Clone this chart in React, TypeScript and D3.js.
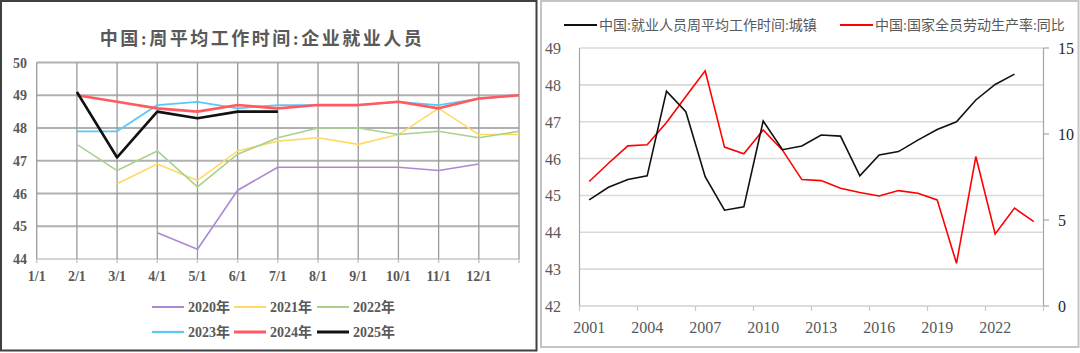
import React, { useEffect, useRef } from "react";
import { select, scaleLinear, scaleBand, line } from "d3";

// left chart: weekly hours, enterprise employees, by month
const monthLabels = ["1/1", "2/1", "3/1", "4/1", "5/1", "6/1", "7/1", "8/1", "9/1", "10/1", "11/1", "12/1"];
const s2020 = [null, null, null, 44.8, 44.3, 46.1, 46.8, 46.8, 46.8, 46.8, 46.7, 46.9, null];
const s2021 = [null, null, 46.3, 46.9, 46.4, 47.3, 47.6, 47.7, 47.5, 47.8, 48.6, 47.8, 47.8];
const s2022 = [null, 47.5, 46.7, 47.3, 46.2, 47.2, 47.7, 48.0, 48.0, 47.8, 47.9, 47.7, 47.9];
const s2023 = [null, 47.9, 47.9, 48.7, 48.8, 48.6, 48.7, 48.7, 48.7, 48.8, 48.7, 48.9, 49.0];
const s2024 = [null, 49.0, 48.8, 48.6, 48.5, 48.7, 48.6, 48.7, 48.7, 48.8, 48.6, 48.9, 49.0];
const s2025 = [null, 49.1, 47.1, 48.5, 48.3, 48.5, 48.5, null, null, null, null, null, null];
const leftTicks = [44, 45, 46, 47, 48, 49, 50];

// right chart: yearly
const years = ["2001", "2002", "2003", "2004", "2005", "2006", "2007", "2008", "2009", "2010", "2011", "2012",
  "2013", "2014", "2015", "2016", "2017", "2018", "2019", "2020", "2021", "2022", "2023", "2024"];
const urbanHours = [44.88, 45.22, 45.43, 45.53, 47.83, 47.27, 45.51, 44.6, 44.69, 47.02, 46.24, 46.34,
  46.64, 46.61, 45.53, 46.1, 46.19, 46.5, 46.79, 47.0, 47.59, 48.01, 48.29, null];
const productivity = [7.24, 8.3, 9.31, 9.37, 10.67, 12.18, 13.68, 9.24, 8.85, 10.24, 9.06, 7.35,
  7.29, 6.85, 6.6, 6.4, 6.71, 6.56, 6.17, 2.48, 8.69, 4.19, 5.69, 4.91];
const hourTicks = [42, 43, 44, 45, 46, 47, 48, 49];
const rateTicks = [0, 5, 10, 15];
const yearLabels = ["2001", "2004", "2007", "2010", "2013", "2016", "2019", "2022"];

const GRAY = "#595959";
const FONT = "'Liberation Serif', 'Noto Sans CJK SC', serif";

const leftSeries = [
  { name: "2020年", data: s2020, color: "#ac88d4", width: 1.6 },
  { name: "2021年", data: s2021, color: "#ffd966", width: 1.6 },
  { name: "2022年", data: s2022, color: "#a9d18e", width: 1.6 },
  { name: "2023年", data: s2023, color: "#5ac8f5", width: 1.8 },
  { name: "2024年", data: s2024, color: "#ff5a5f", width: 2.6 },
  { name: "2025年", data: s2025, color: "#111111", width: 2.6 },
];

const App = () => {
  const svgRef = useRef(null);

  useEffect(() => {
    const svg = select(svgRef.current);
    svg.selectAll("*").remove();

    // ---------- left panel ----------
    svg.append("rect").attr("x", 1).attr("y", 1).attr("width", 535.5).attr("height", 349.5)
      .attr("fill", "#fff").attr("stroke", "#404040").attr("stroke-width", 2);

    const x = scaleLinear().domain([0, 12]).range([36.7, 519]);
    const y = scaleLinear().domain([44, 50]).range([259, 62.5]);
    const L = svg.append("g");

    L.append("text").attr("x", 262).attr("y", 45).attr("text-anchor", "middle")
      .attr("font-family", FONT).attr("font-size", 18).attr("font-weight", "bold")
      .attr("letter-spacing", 2.5).attr("fill", GRAY)
      .text("中国:周平均工作时间:企业就业人员");

    leftTicks.forEach((t) => {
      L.append("line").attr("x1", x(0)).attr("x2", x(12)).attr("y1", y(t)).attr("y2", y(t))
        .attr("stroke", t === 44 ? "#d4d4d4" : "#b0b0b0").attr("stroke-width", 2);
      L.append("text").attr("x", 27).attr("y", y(t) + 5).attr("text-anchor", "end")
        .attr("font-family", FONT).attr("font-size", 14).attr("font-weight", "bold")
        .attr("fill", GRAY).text(t);
    });
    for (let i = 0; i <= 12; i++) {
      L.append("line").attr("x1", x(i)).attr("x2", x(i)).attr("y1", y(50)).attr("y2", y(44))
        .attr("stroke", "#9a9a9a").attr("stroke-width", 1.3);
      L.append("line").attr("x1", x(i)).attr("x2", x(i)).attr("y1", y(44)).attr("y2", y(44) + 4)
        .attr("stroke", "#c8c8c8").attr("stroke-width", 1.5);
    }
    monthLabels.forEach((m, i) => {
      L.append("text").attr("x", x(i)).attr("y", 281).attr("text-anchor", "middle")
        .attr("font-family", FONT).attr("font-size", 14).attr("font-weight", "bold")
        .attr("fill", GRAY).text(m);
    });

    const ln = line<any>()
      .defined((d) => d != null)
      .x((d, i) => x(i))
      .y((d) => y(d));
    leftSeries.forEach((s) => {
      L.append("path").attr("d", ln(s.data)).attr("fill", "none")
        .attr("stroke", s.color).attr("stroke-width", s.width).attr("stroke-linejoin", "round");
    });

    const cols = [152, 234, 317];
    leftSeries.forEach((s, i) => {
      const lx = cols[i % 3];
      const ly = i < 3 ? 307 : 332;
      L.append("line").attr("x1", lx).attr("x2", lx + 32).attr("y1", ly).attr("y2", ly)
        .attr("stroke", s.color).attr("stroke-width", s.width + 0.4);
      L.append("text").attr("x", lx + 36).attr("y", ly + 5)
        .attr("font-family", FONT).attr("font-size", 14).attr("font-weight", "bold")
        .attr("fill", GRAY).text(s.name);
    });

    // ---------- right panel ----------
    svg.append("rect").attr("x", 541).attr("y", 1).attr("width", 537.5).attr("height", 346)
      .attr("fill", "#fff").attr("stroke", "#c4c4c4").attr("stroke-width", 2);

    const xb = scaleBand().domain(years).range([579.5, 1043.5]);
    const yl = scaleLinear().domain([42, 49]).range([306, 48]);
    const yr = scaleLinear().domain([0, 15]).range([306, 48]);
    const R = svg.append("g");

    hourTicks.forEach((t) => {
      if (t > 42) {
        R.append("line").attr("x1", 579.5).attr("x2", 1043.5).attr("y1", yl(t)).attr("y2", yl(t))
          .attr("stroke", "#d9d9d9").attr("stroke-width", 1.6);
      }
      R.append("text").attr("x", 553).attr("y", yl(t) + 6).attr("text-anchor", "middle")
        .attr("font-family", FONT).attr("font-size", 16).attr("fill", GRAY).text(t);
    });
    R.append("line").attr("x1", 579.5).attr("x2", 579.5).attr("y1", 48).attr("y2", 306)
      .attr("stroke", "#a6a6a6").attr("stroke-width", 1.2);
    R.append("line").attr("x1", 1043.5).attr("x2", 1043.5).attr("y1", 48).attr("y2", 306)
      .attr("stroke", "#a6a6a6").attr("stroke-width", 1.2);
    R.append("line").attr("x1", 579.5).attr("x2", 1043.5).attr("y1", 306).attr("y2", 306)
      .attr("stroke", "#d0d0d0").attr("stroke-width", 1.6);
    rateTicks.forEach((t) => {
      R.append("line").attr("x1", 1043.5).attr("x2", 1049).attr("y1", yr(t)).attr("y2", yr(t))
        .attr("stroke", "#a6a6a6").attr("stroke-width", 1.2);
      R.append("text").attr("x", 1058).attr("y", yr(t) + 6)
        .attr("font-family", FONT).attr("font-size", 16).attr("fill", "#262626").text(t);
    });
    const step = xb.step();
    for (let i = 0; i <= years.length; i += 3) {
      const tx = 579.5 + i * step;
      R.append("line").attr("x1", tx).attr("x2", tx).attr("y1", 306).attr("y2", 311)
        .attr("stroke", "#c8c8c8").attr("stroke-width", 1.2);
    }
    yearLabels.forEach((yy) => {
      R.append("text").attr("x", xb(yy) + xb.bandwidth() / 2).attr("y", 333).attr("text-anchor", "middle")
        .attr("font-family", FONT).attr("font-size", 16).attr("fill", GRAY).text(yy);
    });

    const cx = (i: number) => xb(years[i]) + xb.bandwidth() / 2;
    const hLine = line<any>().defined((d) => d != null).x((d, i) => cx(i)).y((d) => yl(d));
    const pLine = line<any>().defined((d) => d != null).x((d, i) => cx(i)).y((d) => yr(d));
    R.append("path").attr("d", pLine(productivity)).attr("fill", "none")
      .attr("stroke", "#ff0000").attr("stroke-width", 1.6);
    R.append("path").attr("d", hLine(urbanHours)).attr("fill", "none")
      .attr("stroke", "#111").attr("stroke-width", 1.6);

    const legend = [
      { x: 564, color: "#111", text: "中国:就业人员周平均工作时间:城镇" },
      { x: 840, color: "#ff0000", text: "中国:国家全员劳动生产率:同比" },
    ];
    legend.forEach((g) => {
      R.append("line").attr("x1", g.x).attr("x2", g.x + 33).attr("y1", 25).attr("y2", 25)
        .attr("stroke", g.color).attr("stroke-width", 1.8);
      R.append("text").attr("x", g.x + 35).attr("y", 30)
        .attr("font-family", FONT).attr("font-size", 14).attr("fill", GRAY).text(g.text);
    });
  }, []);

  return (
    <svg ref={svgRef} width={1080} height={353}
      style={{ position: "absolute", left: 0, top: 0, background: "#fff" }} />
  );
};

export default App;
